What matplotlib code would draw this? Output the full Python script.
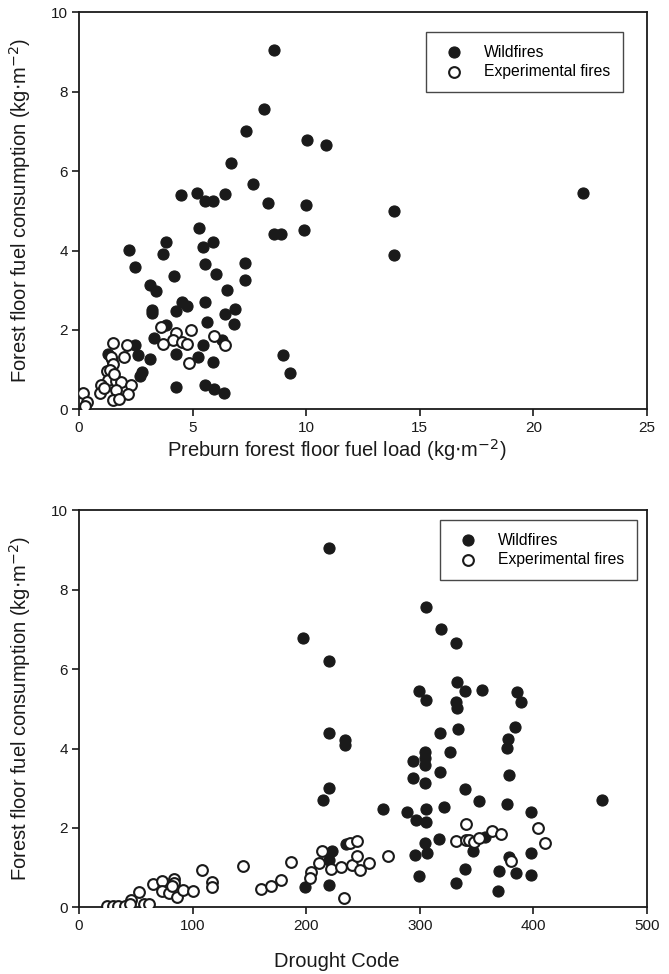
import numpy as np
import matplotlib.pyplot as plt

plt.rcParams['font.family'] = ['Liberation Sans', 'DejaVu Sans']

# top panel: preburn load vs consumption
load_wild = [8.59, 8.16, 7.34, 10.06, 10.88, 6.71, 7.64, 4.48, 5.18, 5.57, 5.89, 6.45, 8.34, 10.0,
             22.17, 9.91, 13.86, 13.86, 8.59, 8.88, 5.30, 3.82, 5.92, 2.20, 3.69, 5.46, 2.48, 5.57,
             7.30, 4.20, 6.04, 7.30, 3.14, 3.39, 6.51, 3.23, 3.23, 4.52, 4.74, 4.27, 5.55, 6.87,
             6.45, 5.64, 6.81, 3.84, 3.31, 2.46, 2.62, 4.27, 5.46, 6.29, 3.14, 5.23, 5.92, 8.96,
             9.30, 2.76, 2.69, 1.29, 4.27, 5.57, 5.95, 6.37, 1.45]
cons_wild = [9.04, 7.55, 7.01, 6.78, 6.66, 6.20, 5.67, 5.40, 5.45, 5.24, 5.24, 5.42, 5.19, 5.15,
             5.45, 4.52, 4.99, 3.89, 4.41, 4.41, 4.56, 4.22, 4.21, 4.01, 3.92, 4.10, 3.58, 3.67,
             3.69, 3.35, 3.41, 3.26, 3.12, 2.99, 3.01, 2.50, 2.42, 2.71, 2.60, 2.48, 2.71, 2.54,
             2.39, 2.20, 2.14, 2.12, 1.80, 1.63, 1.38, 1.40, 1.61, 1.75, 1.28, 1.32, 1.19, 1.36,
             0.92, 0.95, 0.83, 1.40, 0.57, 0.61, 0.52, 0.42, 1.25]
load_exp = [0.16, 0.34, 0.26, 1.49, 2.11, 1.98, 1.40, 1.49, 1.22, 1.29, 1.62, 0.97, 1.86, 2.30,
            0.94, 1.64, 2.18, 1.51, 1.75, 3.62, 4.92, 4.27, 4.15, 3.71, 4.55, 4.74, 5.95, 6.45,
            4.86, 1.35, 1.10, 1.55]
cons_exp = [0.41, 0.20, 0.09, 1.68, 1.61, 1.32, 1.31, 1.14, 0.97, 0.74, 0.72, 0.62, 0.68, 0.62,
            0.42, 0.48, 0.39, 0.24, 0.26, 2.08, 2.00, 1.92, 1.75, 1.64, 1.69, 1.66, 1.84, 1.63,
            1.17, 1.00, 0.55, 0.90]

# bottom panel: drought code vs consumption
dc_wild = [220, 197.5, 220, 305.5, 318.7, 332, 332.7, 299.6, 305.5, 340, 354.8, 331.6, 332.7,
           385.6, 389.2, 318, 333.3, 384.1, 377.7, 376.8, 219.7, 234.4, 234.4, 304.2, 304.2,
           304.2, 294, 326.9, 294, 304.2, 318, 378.3, 219.7, 215.2, 339.5, 351.8, 376.8, 460.5,
           267.6, 288.7, 305.5, 321, 398, 296.6, 305.5, 316.6, 304.8, 296, 306.3, 346.5, 357.7,
           378.3, 398, 299.6, 340, 332.2, 370, 385, 398, 368.9, 235, 223.2, 219.7, 219.7, 199]
dcons_wild = [9.05, 6.79, 6.20, 7.55, 7.02, 6.65, 5.68, 5.44, 5.23, 5.44, 5.46, 5.17, 5.02,
              5.41, 5.18, 4.39, 4.49, 4.55, 4.24, 4.01, 4.40, 4.22, 4.09, 3.92, 3.76,
              3.59, 3.69, 3.90, 3.27, 3.12, 3.41, 3.34, 3.00, 2.71, 2.98, 2.67, 2.60, 2.71,
              2.48, 2.39, 2.47, 2.54, 2.41, 2.19, 2.14, 1.73, 1.62, 1.32, 1.36, 1.41, 1.77,
              1.28, 1.38, 0.79, 0.96, 0.61, 0.92, 0.88, 0.82, 0.42, 1.60, 1.42, 1.20, 0.57, 0.52]
dc_exp = [24.4, 29.7, 34.7, 40.5, 45.5, 45, 57.3, 62, 52.9, 64.9, 72.8, 72.8, 79.6, 84, 84, 82,
          86, 91.9, 100.2, 108.4, 116.9, 116.9, 144.8, 160, 168.9, 177.7, 186.8, 204, 203, 211.7,
          213.8, 232.9, 222, 230.8, 240.3, 247, 245.2, 238.5, 244.9, 255.3, 272, 340.8, 332.1,
          340.7, 343.5, 348, 352.4, 363.3, 371.2, 404, 410.6, 380]
dcons_exp = [0.03, 0.03, 0.03, 0.03, 0.19, 0.09, 0.09, 0.09, 0.40, 0.59, 0.67, 0.42, 0.36, 0.72,
             0.62, 0.55, 0.26, 0.44, 0.41, 0.94, 0.63, 0.52, 1.05, 0.47, 0.54, 0.69, 1.14, 0.89,
             0.74, 1.11, 1.43, 0.23, 0.97, 1.02, 1.06, 0.94, 1.30, 1.61, 1.68, 1.12, 1.30, 2.10,
             1.67, 1.69, 1.70, 1.64, 1.75, 1.92, 1.84, 1.99, 1.63, 1.16]

ink = '#1a1a1a'
ylab = 'Forest floor fuel consumption (kg$\\cdot$m$^{-2}$)'

fig = plt.figure(figsize=(6.69, 9.74), dpi=100)
ax1 = fig.add_axes([0.118, 0.5796, 0.849, 0.408])
ax2 = fig.add_axes([0.118, 0.0683, 0.849, 0.408])


def draw(ax, xw, yw, xe, ye, xmax, xstep, xlabel, anchor, xlab_y):
    ax.scatter(xw, yw, s=64, c=ink, edgecolors=ink, linewidths=0.8, label='Wildfires', zorder=3)
    ax.scatter(xe, ye, s=60, facecolors='white', edgecolors=ink, linewidths=1.5,
               label='Experimental fires', zorder=4)
    ax.set_xlim(0, xmax)
    ax.set_ylim(0, 10)
    ax.set_xticks(np.arange(0, xmax + 1, xstep))
    ax.set_yticks(np.arange(0, 11, 2))
    ax.tick_params(direction='out', length=5, width=1.2, labelsize=11, colors=ink,
                   top=False, right=False, pad=3)
    for s in ax.spines.values():
        s.set_linewidth(1.3)
        s.set_color(ink)
    ax.set_xlabel(xlabel, fontsize=14.5, color=ink)
    ax.xaxis.set_label_coords(0.454, xlab_y)
    ax.set_ylabel(ylab, fontsize=14.5, color=ink, labelpad=13)
    leg = ax.legend(loc='upper right', bbox_to_anchor=anchor, fontsize=11.3, frameon=True,
                    fancybox=False, edgecolor=ink, borderpad=0.8, handletextpad=0.9,
                    labelspacing=0.3, borderaxespad=0)
    leg.get_frame().set_linewidth(1.0)


draw(ax1, load_wild, cons_wild, load_exp, cons_exp, 25, 5,
     'Preburn forest floor fuel load (kg$\\cdot$m$^{-2}$)', (0.958, 0.950), -0.07)
draw(ax2, dc_wild, dcons_wild, dc_exp, dcons_exp, 500, 100, 'Drought Code', (0.982, 0.975), -0.112)

fig.savefig('out.png', dpi=100)
